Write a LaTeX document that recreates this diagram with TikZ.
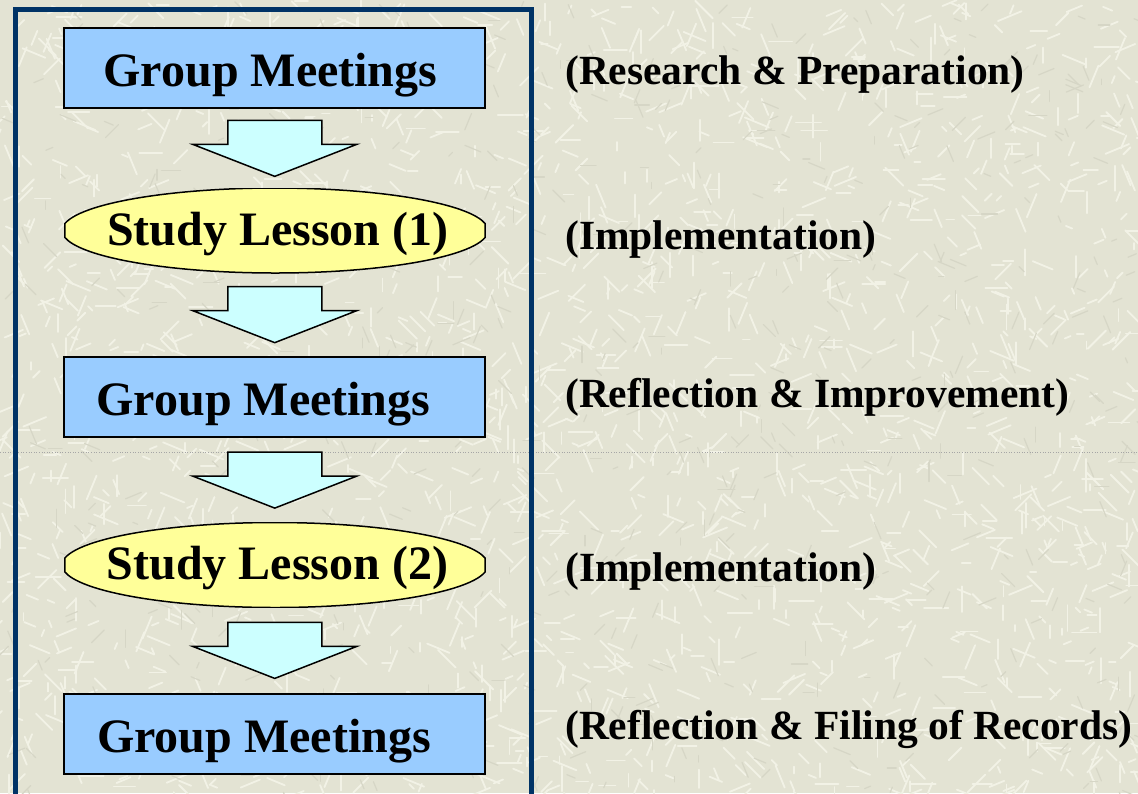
\documentclass[tikz,border=0pt]{standalone}
\usepackage{fontspec}
\setmainfont{Liberation Serif}
\usetikzlibrary{calc}

\definecolor{paper}{HTML}{E3E3D3}
\definecolor{paperlight}{HTML}{F2F2E6}
\definecolor{paperdark}{HTML}{D6D6C6}
\definecolor{framecol}{HTML}{003366}
\definecolor{meetfill}{HTML}{99CCFF}
\definecolor{lessonfill}{HTML}{FFFF99}
\definecolor{arrowfill}{HTML}{CCFFFF}

\tikzset{
  bigtext/.style={font=\bfseries\fontsize{48}{52}\selectfont},
  sidetext/.style={font=\bfseries\fontsize{41.5}{46}\selectfont, anchor=base west, inner sep=0pt},
  meeting/.style={bigtext, rectangle, draw=black, line width=1.8pt, fill=meetfill,
    minimum width=421pt, minimum height=80pt, inner sep=0pt,
    text height=37pt, text depth=0pt},
  lesson/.style={bigtext, rectangle, draw=none, minimum width=424pt, minimum height=85pt,
    inner sep=0pt, text height=29pt, text depth=0pt,
    path picture={
      \draw[black, line width=1.5pt, fill=lessonfill]
        (path picture bounding box.center) ++(9.5:213 and 42.5)
        arc[start angle=9.5, end angle=170.5, x radius=213, y radius=42.5]
        -- ++(0,-14.02)
        arc[start angle=189.5, end angle=350.5, x radius=213, y radius=42.5]
        -- cycle;
    }},
  blockdown/.pic={
    \draw[black, line width=1.5pt, fill=arrowfill, line join=miter]
      (-47,-28) -- (47,-28) -- (47,-4) -- (82,-4) -- (0,28)
      -- (-82,-4) -- (-47,-4) -- cycle;
  },
  framebox/.style={draw=framecol, line width=5pt},
  pagefold/.style={draw=black!35, line width=0.6pt, dotted},
  grainlight/.style={draw=paperlight, line width=1.8pt, line cap=round},
  graindark/.style={draw=paperdark, line width=1.2pt, line cap=round}
}

\begin{document}
\begin{tikzpicture}[x=1pt, y=-1pt]
\useasboundingbox (0,0) rectangle (1138,793);
\begin{scope}
\clip (0,0) rectangle (1138,793);

% textured paper background
\fill[paper] (0,0) rectangle (1138,793);
\pgfmathsetseed{4242}
\foreach \k in {1,...,2200}{
  \pgfmathsetmacro{\px}{rnd*1138}
  \pgfmathsetmacro{\py}{rnd*793}
  \pgfmathsetmacro{\pa}{int(rnd*8)*22.5}
  \pgfmathsetmacro{\pl}{6+rnd*20}
  \draw[grainlight] (\px,\py) -- ++(\pa:\pl);
}
\foreach \k in {1,...,600}{
  \pgfmathsetmacro{\px}{rnd*1138}
  \pgfmathsetmacro{\py}{rnd*793}
  \pgfmathsetmacro{\pa}{int(rnd*8)*22.5}
  \pgfmathsetmacro{\pl}{5+rnd*14}
  \draw[graindark] (\px,\py) -- ++(\pa:\pl);
}

% faint page fold line
\coordinate (foldL) at (0,452);
\coordinate (foldR) at (1138,452);
\draw[pagefold] (foldL) -- (foldR);

% outer frame around the cycle
\draw[framebox] (15,9) rectangle (531,812);

% cycle steps
\node[meeting] (b1) at (274.5,68)  {Group Meetings\kern8pt};
\node[lesson]  (s1) at (275,230.5) {\kern6pt Study Lesson (1)};
\node[meeting] (b2) at (274.5,397) {Group Meetings\kern22pt};
\node[lesson]  (s2) at (275,565)   {\kern5pt Study Lesson (2)};
\node[meeting] (b3) at (274.5,734) {Group Meetings\kern21pt};

% block arrows between steps
\pic at ($(b1.south)!0.5!(s1.north)$) {blockdown};
\pic at ($(s1.south)!0.5!(b2.north)$) {blockdown};
\pic at ($(b2.south)!0.5!(s2.north)$) {blockdown};
\pic at ($(s2.south)!0.5!(b3.north)$) {blockdown};

% phase descriptions
\node[sidetext] (r1) at (565,84)  {(Research \& Preparation)};
\node[sidetext] (r2) at (565,249) {(Implementation)};
\node[sidetext] (r3) at (565,407) {(Reflection \& Improvement)};
\node[sidetext] (r4) at (565,581) {(Implementation)};
\node[sidetext] (r5) at (565,739) {(Reflection \& Filing of Records)};
\end{scope}
\end{tikzpicture}
\end{document}
